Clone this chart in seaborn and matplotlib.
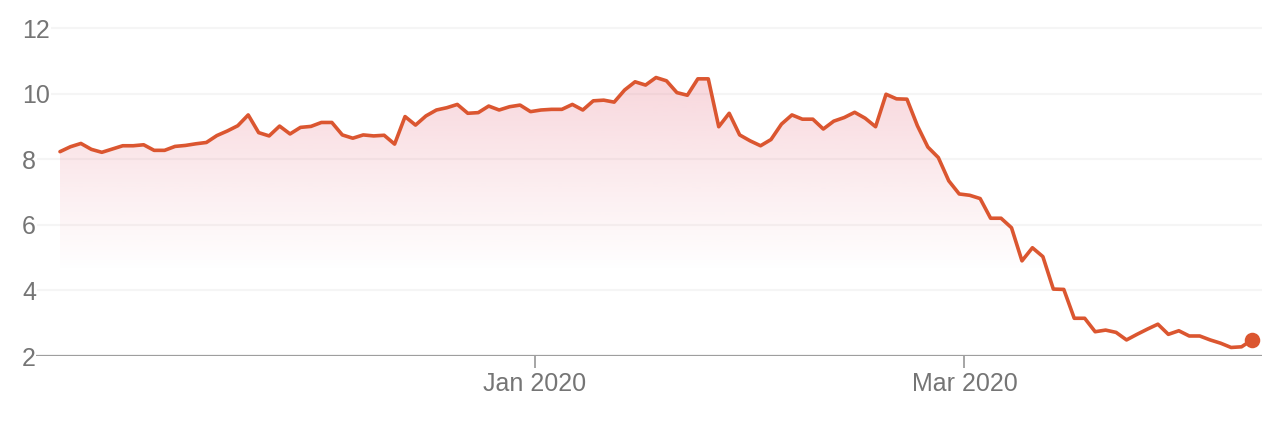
import numpy as np
import matplotlib
matplotlib.use("Agg")
import matplotlib.pyplot as plt
import seaborn as sns
import pandas as pd

# ---- data ----
prices = [
    8.23, 8.38, 8.48, 8.30, 8.21, 8.31, 8.41, 8.41, 8.44, 8.27,
    8.27, 8.39, 8.42, 8.47, 8.51, 8.72, 8.86, 9.02, 9.35, 8.81,
    8.71, 9.01, 8.77, 8.97, 9.00, 9.12, 9.12, 8.74, 8.64, 8.74,
    8.71, 8.73, 8.46, 9.30, 9.04, 9.32, 9.50, 9.57, 9.67, 9.40,
    9.42, 9.62, 9.50, 9.60, 9.65, 9.45, 9.50, 9.52, 9.52, 9.67,
    9.50, 9.78, 9.80, 9.74, 10.11, 10.36, 10.26, 10.49, 10.39, 10.03,
    9.95, 10.45, 10.45, 8.99, 9.40, 8.74, 8.56, 8.41, 8.60, 9.07,
    9.35, 9.22, 9.22, 8.92, 9.16, 9.27, 9.43, 9.25, 8.99, 9.98,
    9.84, 9.83, 9.02, 8.37, 8.05, 7.34, 6.94, 6.90, 6.80, 6.20,
    6.20, 5.91, 4.90, 5.30, 5.03, 4.04, 4.03, 3.15, 3.15, 2.74,
    2.79, 2.72, 2.49, 2.66, 2.82, 2.97, 2.66, 2.77, 2.61, 2.61,
    2.49, 2.39, 2.26, 2.28, 2.49,
]
x_tick_labels = ["Jan 2020", "Mar 2020"]
x_tick_index = [45.4, 86.5]
y_ticks = [2, 4, 6, 8, 10, 12]

df = pd.DataFrame({"idx": np.arange(len(prices)), "price": prices})

sns.set_theme(style="white")
plt.rcParams["font.family"] = ["Liberation Sans", "DejaVu Sans"]

W, H = 1288, 436
fig = plt.figure(figsize=(W / 100, H / 100), dpi=100)
L, R, T, B = 36, 1262, 20, 356
ax = fig.add_axes([L / W, 1 - B / H, (R - L) / W, (B - T) / H])

n = len(prices) - 1
pxper = (1252 - 60) / n
xlo = -(60 - L) / pxper
xhi = n + (R - 1252) / pxper
ylo, yhi = 2, 2 + (B - T) / 32.8
ax.set_xlim(xlo, xhi)
ax.set_ylim(ylo, yhi)

line_color = "#db5630"

# gradient fill under the line
poly = ax.fill_between(df["idx"], df["price"], ylo, facecolor="none", edgecolor="none")
ny = 300
yy = np.linspace(ylo, yhi, ny)
alpha = 0.30 * np.clip((yy - 4.6) / (10.5 - 4.6), 0, 1)
grad = np.zeros((ny, 1, 4))
grad[..., 0] = 232 / 255
grad[..., 1] = 120 / 255
grad[..., 2] = 138 / 255
grad[:, 0, 3] = alpha
im = ax.imshow(grad, extent=[xlo, xhi, ylo, yhi], origin="lower", aspect="auto",
               zorder=1.5, interpolation="bilinear")
im.set_clip_path(poly.get_paths()[0], transform=ax.transData)

sns.lineplot(data=df, x="idx", y="price", color=line_color, linewidth=2.6, ax=ax,
             zorder=3)
last = df.iloc[[-1]]
sns.scatterplot(data=last, x="idx", y="price", color=line_color, s=125,
                linewidth=0, ax=ax, zorder=4, clip_on=False)

ax.axhline(2, color="#9e9e9e", lw=1.6, zorder=2.5)

for s in ax.spines.values():
    s.set_visible(False)

ax.set_yticks(y_ticks)
ax.set_yticklabels([str(v) for v in y_ticks])
ax.yaxis.grid(True, color="#f5f5f5", lw=1.5)
ax.xaxis.grid(False)
ax.tick_params(axis="y", length=0, pad=10, labelsize=18, labelcolor="#757575")
for lab in ax.get_yticklabels():
    lab.set_horizontalalignment("left")
    lab.set_bbox(dict(facecolor="white", edgecolor="none", pad=0.5))

ax.set_xticks(x_tick_index)
ax.set_xticklabels(x_tick_labels)
ax.tick_params(axis="x", bottom=True, length=8.6, width=1.3, color="#9e9e9e",
               pad=3, labelsize=18, labelcolor="#757575")
ax.set_xlabel("")
ax.set_ylabel("")

fig.savefig("out.png", dpi=100)
